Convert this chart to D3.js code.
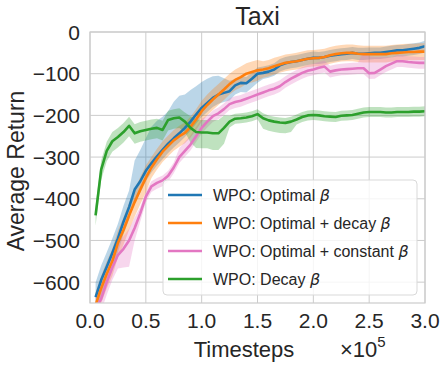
<!DOCTYPE html>
<html>
<head>
<meta charset="utf-8">
<script src="https://cdn.jsdelivr.net/npm/d3@7"></script>
<style>
body { margin: 0; background: #fff; }
text { font-family: "Liberation Sans", Arial, sans-serif; fill: #262626; }
</style>
</head>
<body>
<div id="chart-area"></div>
<script>
// x values, in units of 1e5 timesteps
var timesteps = [0.05, 0.10, 0.15, 0.20, 0.25, 0.30, 0.35, 0.40, 0.45, 0.50,
	0.55, 0.60, 0.65, 0.70, 0.75, 0.80, 0.85, 0.90, 0.95, 1.00,
	1.05, 1.10, 1.15, 1.20, 1.25, 1.30, 1.35, 1.40, 1.45, 1.50,
	1.55, 1.60, 1.65, 1.70, 1.75, 1.80, 1.85, 1.90, 1.95, 2.00,
	2.05, 2.10, 2.15, 2.20, 2.25, 2.30, 2.35, 2.40, 2.45, 2.50,
	2.55, 2.60, 2.65, 2.70, 2.75, 2.80, 2.85, 2.90, 2.95, 3.00];

var optimal = [-636, -595, -563, -530, -495, -455, -420, -378, -358, -333,
	-315, -298, -283, -268, -255, -243, -230, -215, -198, -182,
	-170, -158, -150, -146, -142, -128, -122, -123, -112, -100,
	-98, -95, -90, -80, -75, -72, -70, -67, -64, -62,
	-62, -60, -57, -55, -53, -52, -50, -52, -52, -51,
	-50, -50, -48, -46, -44, -44, -42, -40, -38, -34];
var optimalUp = [35, 35, 35, 35, 35, 38, 40, 70, 75, 78,
	88, 85, 80, 78, 88, 90, 80, 76, 68, 62,
	58, 52, 45, 35, 25, 15, 15, 15, 15, 15,
	15, 15, 15, 15, 15, 15, 15, 15, 15, 15,
	14, 14, 14, 14, 14, 14, 14, 14, 14, 14,
	13, 13, 13, 13, 13, 13, 13, 13, 13, 13];
var optimalDown = [40, 38, 35, 35, 33, 30, 30, 28, 28, 25,
	22, 22, 22, 22, 22, 22, 22, 22, 22, 22,
	22, 22, 22, 22, 22, 22, 22, 22, 22, 22,
	15, 15, 15, 15, 15, 15, 15, 15, 15, 15,
	15, 15, 15, 15, 15, 15, 15, 15, 15, 15,
	15, 15, 15, 15, 15, 15, 15, 15, 15, 15];

var decayOpt = [-655, -615, -580, -550, -506, -475, -440, -408, -378, -350,
	-325, -305, -287, -273, -260, -250, -242, -228, -210, -190,
	-175, -162, -150, -138, -125, -115, -108, -100, -96, -92,
	-90, -87, -82, -78, -74, -72, -70, -67, -64, -63,
	-62, -60, -56, -53, -51, -50, -50, -52, -53, -53,
	-53, -53, -53, -51, -50, -49, -48, -48, -47, -47];
var decayOptUp = [30, 30, 30, 30, 30, 30, 30, 30, 30, 30,
	25, 25, 25, 25, 25, 25, 25, 25, 25, 25,
	25, 25, 25, 25, 25, 25, 25, 25, 25, 25,
	20, 20, 20, 20, 20, 20, 20, 20, 20, 20,
	20, 20, 20, 20, 20, 20, 20, 20, 20, 20,
	20, 20, 20, 20, 20, 20, 20, 20, 20, 20];
var decayOptDown = [35, 35, 35, 35, 35, 35, 35, 35, 35, 35,
	25, 25, 25, 25, 25, 25, 25, 25, 25, 25,
	25, 25, 25, 25, 25, 25, 25, 25, 25, 25,
	20, 20, 20, 20, 20, 20, 20, 20, 20, 20,
	20, 20, 20, 20, 20, 20, 20, 20, 20, 20,
	20, 20, 20, 20, 20, 20, 20, 20, 20, 20];

var constOpt = [-665, -640, -600, -565, -535, -520, -500, -470, -435, -395,
	-370, -362, -356, -345, -325, -300, -285, -270, -250, -230,
	-215, -202, -195, -185, -173, -168, -165, -160, -155, -150,
	-145, -140, -136, -130, -120, -112, -105, -98, -93, -90,
	-86, -83, -95, -92, -90, -89, -88, -87, -87, -99,
	-98, -90, -82, -76, -70, -70, -72, -73, -74, -74];
var constOptUp = [30, 30, 30, 30, 30, 30, 28, 25, 15, 12,
	12, 12, 12, 12, 12, 22, 22, 22, 22, 22,
	14, 14, 14, 14, 14, 14, 14, 14, 14, 14,
	14, 14, 14, 14, 14, 14, 14, 14, 14, 14,
	14, 14, 14, 14, 14, 14, 14, 14, 40, 40,
	38, 30, 22, 15, 14, 14, 14, 14, 14, 14];
var constOptDown = [30, 30, 30, 30, 32, 45, 63, 30, 20, 14,
	14, 14, 14, 14, 14, 14, 14, 14, 14, 14,
	14, 14, 14, 14, 14, 14, 14, 14, 14, 14,
	14, 14, 14, 14, 14, 14, 14, 14, 14, 14,
	14, 14, 14, 14, 14, 14, 14, 14, 14, 14,
	14, 14, 14, 14, 14, 14, 14, 14, 14, 14];

var decay = [-440, -330, -285, -262, -252, -240, -225, -243, -238, -235,
	-232, -230, -235, -211, -207, -205, -215, -230, -240, -241,
	-241, -243, -243, -230, -215, -208, -207, -205, -202, -197,
	-207, -212, -215, -217, -218, -215, -210, -204, -200, -199,
	-200, -202, -203, -204, -201, -200, -199, -196, -193, -192,
	-192, -192, -193, -193, -192, -192, -192, -191, -191, -190];
var decayUp = [22, 22, 22, 22, 22, 22, 22, 22, 22, 22,
	22, 22, 22, 22, 22, 22, 22, 28, 30, 30,
	30, 32, 32, 30, 14, 12, 12, 12, 12, 12,
	12, 12, 12, 12, 12, 12, 12, 12, 12, 12,
	12, 12, 12, 12, 12, 12, 12, 12, 12, 12,
	12, 12, 12, 12, 12, 12, 12, 12, 12, 12];
var decayDown = [25, 25, 25, 25, 25, 25, 25, 25, 25, 25,
	25, 25, 25, 25, 25, 25, 25, 35, 38, 38,
	38, 40, 40, 38, 14, 12, 12, 12, 12, 12,
	25, 25, 25, 25, 25, 25, 12, 12, 12, 12,
	12, 12, 12, 12, 12, 12, 12, 12, 12, 12,
	12, 12, 12, 12, 12, 12, 12, 12, 12, 12];

var labels = ["WPO: Optimal ", "WPO: Optimal + decay ", "WPO: Optimal + constant ", "WPO: Decay "];
var colors = ["#1f77b4", "#ff7f0e", "#e377c2", "#2ca02c"];
var xTicks = [0, 0.5, 1.0, 1.5, 2.0, 2.5, 3.0];
var yTicks = [0, -100, -200, -300, -400, -500, -600];

var series = [
	{ mean: optimal, up: optimalUp, down: optimalDown },
	{ mean: decayOpt, up: decayOptUp, down: decayOptDown },
	{ mean: constOpt, up: constOptUp, down: constOptDown },
	{ mean: decay, up: decayUp, down: decayDown }
];

var W = 447, H = 373;
var pLeft = 90, pRight = 425, pTop = 32, pBottom = 303;

var svg = d3.select("#chart-area")
	.append("svg")
	.attr("width", W)
	.attr("height", H);

var x = d3.scaleLinear().domain([0, 3]).range([pLeft, pRight]);
var y = d3.scaleLinear().domain([-650, 0]).range([pBottom, pTop]);

svg.append("clipPath").attr("id", "clip")
	.append("rect")
	.attr("x", pLeft).attr("y", pTop)
	.attr("width", pRight - pLeft).attr("height", pBottom - pTop);

// grid
var grid = svg.append("g");
grid.selectAll("line.gx").data(xTicks).enter().append("line")
	.attr("x1", function (d) { return x(d); })
	.attr("x2", function (d) { return x(d); })
	.attr("y1", pTop).attr("y2", pBottom)
	.attr("stroke", "#cccccc").attr("stroke-width", 1);
grid.selectAll("line.gy").data(yTicks).enter().append("line")
	.attr("y1", function (d) { return y(d); })
	.attr("y2", function (d) { return y(d); })
	.attr("x1", pLeft).attr("x2", pRight)
	.attr("stroke", "#cccccc").attr("stroke-width", 1);

// bands then lines
var plots = svg.append("g").attr("clip-path", "url(#clip)");

series.forEach(function (s, k) {
	var area = d3.area()
		.x(function (d, i) { return x(timesteps[i]); })
		.y0(function (d, i) { return y(s.mean[i] - s.down[i]); })
		.y1(function (d, i) { return y(s.mean[i] + s.up[i]); });
	plots.append("path")
		.datum(s.mean)
		.attr("d", area)
		.attr("fill", colors[k])
		.attr("fill-opacity", 0.3)
		.attr("stroke", "none");
});

series.forEach(function (s, k) {
	var line = d3.line()
		.x(function (d, i) { return x(timesteps[i]); })
		.y(function (d) { return y(d); });
	plots.append("path")
		.datum(s.mean)
		.attr("d", line)
		.attr("fill", "none")
		.attr("stroke", colors[k])
		.attr("stroke-width", 2.6)
		.attr("stroke-linejoin", "round");
});

// frame
svg.append("rect")
	.attr("x", pLeft).attr("y", pTop)
	.attr("width", pRight - pLeft).attr("height", pBottom - pTop)
	.attr("fill", "none")
	.attr("stroke", "#cccccc").attr("stroke-width", 1.2);

// tick labels
svg.selectAll("text.xt").data(xTicks).enter().append("text")
	.attr("x", function (d) { return x(d); })
	.attr("y", 328)
	.attr("text-anchor", "middle")
	.style("font-size", "21px")
	.text(function (d) { return d.toFixed(1); });

svg.selectAll("text.yt").data(yTicks).enter().append("text")
	.attr("x", 80)
	.attr("y", function (d) { return y(d) + 7.5; })
	.attr("text-anchor", "end")
	.style("font-size", "21px")
	.text(function (d) { return d < 0 ? "\u2212" + Math.abs(d) : d; });

// title and labels
svg.append("text")
	.attr("x", (pLeft + pRight) / 2)
	.attr("y", 25)
	.attr("text-anchor", "middle")
	.style("font-size", "25px")
	.text("Taxi");

svg.append("text")
	.attr("x", 244)
	.attr("y", 357)
	.attr("text-anchor", "middle")
	.style("font-size", "22px")
	.text("Timesteps");

var mult = svg.append("text")
	.attr("x", 340)
	.attr("y", 357)
	.style("font-size", "22px");
mult.append("tspan").text("\u00d710");
mult.append("tspan").attr("dy", -10).style("font-size", "15px").text("5");

svg.append("text")
	.attr("transform", "translate(24,171) rotate(-90)")
	.attr("text-anchor", "middle")
	.style("font-size", "23px")
	.text("Average Return");

// legend
var legend = svg.append("g").attr("class", "legend");
legend.append("rect")
	.attr("x", 163).attr("y", 180)
	.attr("width", 254).attr("height", 115)
	.attr("rx", 4)
	.attr("fill", "#ffffff").attr("fill-opacity", 0.8)
	.attr("stroke", "#d9d9d9").attr("stroke-width", 1);

var rows = legend.selectAll("g.row").data(labels).enter().append("g")
	.attr("transform", function (d, i) { return "translate(0," + (195 + i * 28) + ")"; });
rows.append("line")
	.attr("x1", 168).attr("x2", 202)
	.attr("stroke", function (d, i) { return colors[i]; })
	.attr("stroke-width", 2.6);
var lt = rows.append("text")
	.attr("x", 213)
	.attr("y", 6)
	.style("font-size", "16px");
lt.append("tspan").text(function (d) { return d; });
lt.append("tspan")
	.style("font-family", "'DejaVu Sans', sans-serif")
	.style("font-style", "italic")
	.text("\u03b2");
</script>
</body>
</html>
